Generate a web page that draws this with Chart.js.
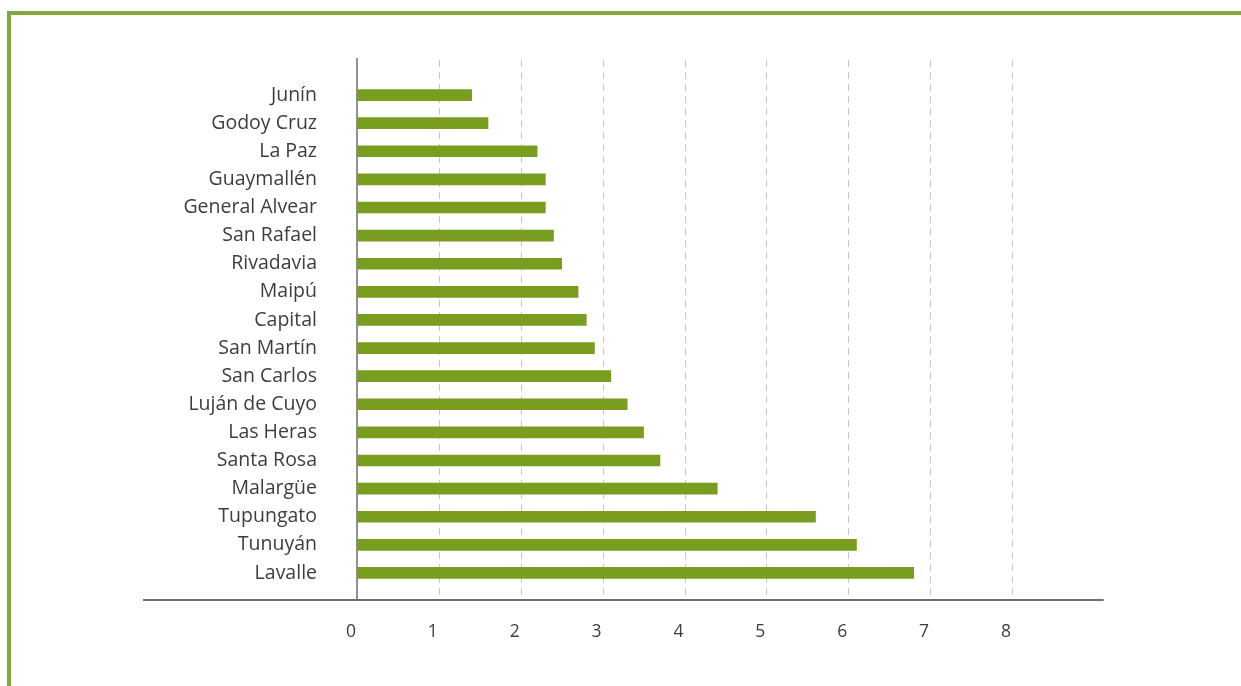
<!DOCTYPE html>
<html>
<head>
<meta charset="utf-8">
<script src="https://cdn.jsdelivr.net/npm/chart.js@4/dist/chart.umd.min.js"></script>
<style>
  html, body { margin: 0; padding: 0; background: #fff; }
  #wrap { position: relative; width: 1241px; height: 686px; }
  #frame { position: absolute; left: 7px; top: 11px; right: 0; bottom: 0;
           border-top: 4px solid #80a83a; border-left: 4px solid #80a83a; }
  canvas { position: absolute; left: 0; top: 0; }
</style>
</head>
<body>
<div id="wrap">
  <div id="frame"></div>
  <canvas id="chart" width="1241" height="686"></canvas>
</div>
<script>
const municipios = ['Junín', 'Godoy Cruz', 'La Paz', 'Guaymallén', 'General Alvear', 'San Rafael',
  'Rivadavia', 'Maipú', 'Capital', 'San Martín', 'San Carlos', 'Luján de Cuyo', 'Las Heras',
  'Santa Rosa', 'Malargüe', 'Tupungato', 'Tunuyán', 'Lavalle'];
const valores = [1.4, 1.6, 2.2, 2.3, 2.3, 2.4, 2.5, 2.7, 2.8, 2.9, 3.1, 3.3, 3.5, 3.7, 4.4, 5.6, 6.1, 6.8];
const xTicks = [0, 1, 2, 3, 4, 5, 6, 7, 8];

const textColor = '#3d3d3d';
const barColor = '#789d1f';

// grid lines and axis lines run a bit past the bar area, so draw them here
const axisLines = {
  id: 'axisLines',
  beforeDatasetsDraw(chart) {
    const ctx = chart.ctx;
    const x = chart.scales.x;
    const area = chart.chartArea;
    const top = area.top - 21;
    const base = area.bottom + 13;
    ctx.save();
    ctx.strokeStyle = '#c8c8c8';
    ctx.lineWidth = 1;
    ctx.setLineDash([7, 5]);
    xTicks.slice(1).forEach(v => {
      const px = Math.round(x.getPixelForValue(v)) + 0.5;
      ctx.beginPath();
      ctx.moveTo(px, top);
      ctx.lineTo(px, base);
      ctx.stroke();
    });
    ctx.setLineDash([]);
    ctx.strokeStyle = '#6e6e6e';
    ctx.lineWidth = 1.5;
    const x0 = x.getPixelForValue(0);
    ctx.beginPath();
    ctx.moveTo(x0, top - 2);
    ctx.lineTo(x0, base);
    ctx.stroke();
    ctx.lineWidth = 2;
    ctx.beginPath();
    ctx.moveTo(143, base);
    ctx.lineTo(x.getPixelForValue(9.12), base);
    ctx.stroke();
    ctx.restore();
  }
};

new Chart(document.getElementById('chart'), {
  type: 'bar',
  data: {
    labels: municipios,
    datasets: [{
      data: valores,
      backgroundColor: barColor,
      barThickness: 11,
      borderWidth: 0
    }]
  },
  options: {
    indexAxis: 'y',
    responsive: false,
    animation: false,
    layout: { padding: { top: 81, right: 229, bottom: 0, left: 0 } },
    plugins: { legend: { display: false }, tooltip: { enabled: false } },
    scales: {
      x: {
        min: 0,
        max: 8,
        afterFit: s => { s.height = 99; },
        afterBuildTicks: s => { s.ticks = xTicks.map(v => ({ value: v })); },
        grid: { display: false, drawTicks: false },
        border: { display: false },
        ticks: {
          padding: 35,
          labelOffset: -6,
          color: textColor,
          font: { family: 'Open Sans', size: 17.5 }
        }
      },
      y: {
        afterFit: s => { s.width = 357; },
        grid: { display: false, drawTicks: false },
        border: { display: false },
        ticks: {
          padding: 40,
          color: textColor,
          font: { family: 'Open Sans', size: 19.5 }
        }
      }
    }
  },
  plugins: [axisLines]
});
</script>
</body>
</html>
